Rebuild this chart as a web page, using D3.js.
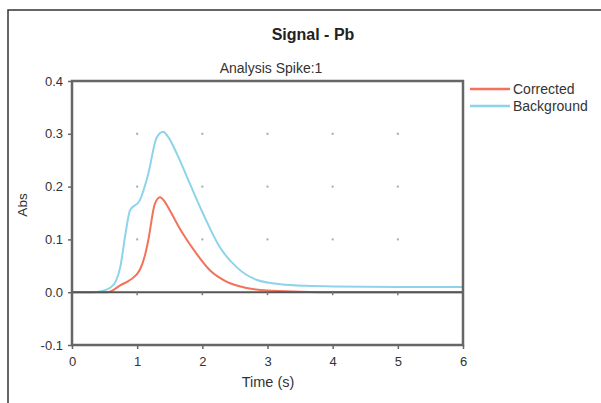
<!DOCTYPE html>
<html>
<head>
<meta charset="utf-8">
<script src="https://cdn.jsdelivr.net/npm/d3@7"></script>
<style>
  body { margin: 0; background: #fff; }
  text { font-family: "Liberation Sans", Arial, sans-serif; fill: #333; }
</style>
</head>
<body>
<svg id="chart" width="601" height="403"></svg>
<script>
// values
var timeCorrected = [0, 0.3, 0.5, 0.58, 0.74, 0.89, 1.04, 1.12, 1.17, 1.27, 1.35, 1.42, 1.5, 1.7, 1.91, 2.12, 2.37, 2.68, 3.0, 3.5, 4, 5, 6];
var corrected     = [0, 0, 0, 0.001, 0.013, 0.023, 0.042, 0.07, 0.098, 0.167, 0.18, 0.172, 0.155, 0.111, 0.073, 0.041, 0.02, 0.008, 0.003, 0.001, 0, 0, 0];
var timeBackground = [0, 0.3, 0.45, 0.58, 0.67, 0.74, 0.82, 0.89, 1.04, 1.17, 1.3, 1.4, 1.47, 1.61, 1.81, 2.01, 2.27, 2.53, 2.84, 3.2, 3.6, 4, 5, 6];
var background     = [0, 0, 0.002, 0.008, 0.02, 0.047, 0.11, 0.155, 0.174, 0.224, 0.293, 0.304, 0.295, 0.262, 0.205, 0.149, 0.085, 0.047, 0.023, 0.015, 0.012, 0.011, 0.01, 0.01];
var xTicks = [0, 1, 2, 3, 4, 5, 6];
var yTicks = [-0.1, 0, 0.1, 0.2, 0.3, 0.4];
var seriesNames = ['Corrected', 'Background'];
var seriesColors = ['#f2725a', '#8dd4ea'];

var svg = d3.select('#chart');

// outer frame
svg.append('rect').attr('x', 8).attr('y', 10).attr('width', 600).attr('height', 400)
    .attr('fill', 'none').attr('stroke', '#333').attr('stroke-width', 1.5);

var plotL = 72, plotR = 463, plotT = 81, plotB = 345;
var x = d3.scaleLinear().domain([0, 6]).range([plotL, plotR]);
var y = d3.scaleLinear().domain([-0.1, 0.4]).range([plotB, plotT]);

svg.append('text').attr('x', 313).attr('y', 40).attr('text-anchor', 'middle')
    .style('font-size', '16px').style('font-weight', 'bold').style('fill', '#222').text('Signal - Pb');
svg.append('text').attr('x', 271).attr('y', 73).attr('text-anchor', 'middle')
    .style('font-size', '14px').text('Analysis Spike:1');

// grid dots
xTicks.slice(1, -1).forEach(function(tx) {
    [0.1, 0.2, 0.3].forEach(function(ty) {
        svg.append('rect').attr('x', x(tx) - 1).attr('y', y(ty) - 1).attr('width', 2).attr('height', 2).attr('fill', '#aaa');
    });
});

// series
var line = d3.line().x(function(d) { return x(d[0]); }).y(function(d) { return y(d[1]); }).curve(d3.curveMonotoneX);
var bgData = timeBackground.map(function(t, i) { return [t, background[i]]; });
var coData = timeCorrected.map(function(t, i) { return [t, corrected[i]]; });
svg.append('path').datum(bgData).attr('d', line).attr('fill', 'none')
    .attr('stroke', seriesColors[1]).attr('stroke-width', 2);
svg.append('path').datum(coData).attr('d', line).attr('fill', 'none')
    .attr('stroke', seriesColors[0]).attr('stroke-width', 2);

// zero line
svg.append('line').attr('x1', plotL).attr('x2', plotR).attr('y1', y(0)).attr('y2', y(0))
    .attr('stroke', '#555').attr('stroke-width', 2);
xTicks.slice(1, -1).forEach(function(tx) {
    svg.append('line').attr('x1', x(tx)).attr('x2', x(tx)).attr('y1', y(0)).attr('y2', y(0) + 3)
        .attr('stroke', '#777').attr('stroke-width', 1.5);
});

// plot frame
svg.append('rect').attr('x', plotL).attr('y', plotT).attr('width', plotR - plotL).attr('height', plotB - plotT)
    .attr('fill', 'none').attr('stroke', '#666').attr('stroke-width', 2.5);

// axes
var xAxis = svg.append('g').attr('transform', 'translate(0,' + plotB + ')')
    .call(d3.axisBottom(x).tickValues(xTicks).tickSize(4).tickPadding(8).tickFormat(function(d) { return d; }));
var yAxis = svg.append('g').attr('transform', 'translate(' + plotL + ',0)')
    .call(d3.axisLeft(y).tickValues(yTicks).tickSize(4).tickPadding(5).tickFormat(function(d) { return d.toFixed(1); }));
[xAxis, yAxis].forEach(function(a) {
    a.select('.domain').remove();
    a.selectAll('line').attr('stroke', '#666').attr('stroke-width', 1.5);
    a.selectAll('text').style('font-size', '13px').style('fill', '#333')
        .style('font-family', '"Liberation Sans", Arial, sans-serif');
});

svg.append('text').attr('x', 268).attr('y', 387).attr('text-anchor', 'middle')
    .style('font-size', '14.5px').text('Time (s)');
svg.append('text').attr('transform', 'translate(27,205) rotate(-90)').attr('text-anchor', 'middle')
    .style('font-size', '13.5px').text('Abs');

// legend
seriesNames.forEach(function(name, i) {
    var ly = 89 + i * 17;
    svg.append('line').attr('x1', 470).attr('x2', 510).attr('y1', ly).attr('y2', ly)
        .attr('stroke', seriesColors[i]).attr('stroke-width', 2.5);
    svg.append('text').attr('x', 513).attr('y', ly + 5).style('font-size', '14px').text(name);
});
</script>
</body>
</html>
